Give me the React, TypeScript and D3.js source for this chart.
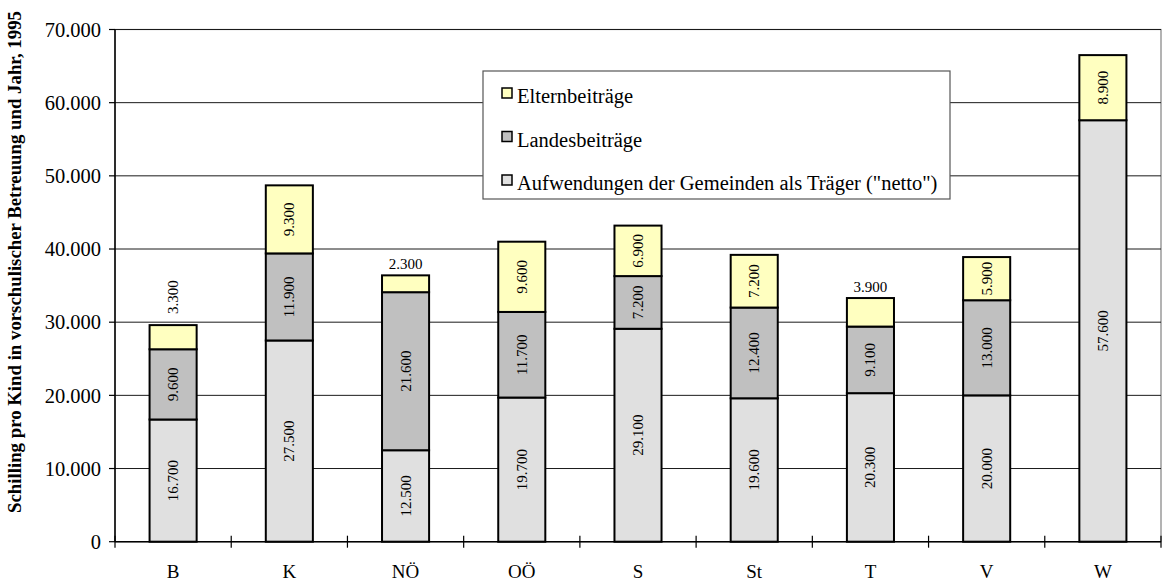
import React from "react";
import * as d3 from "d3";

const categories = ["B", "K", "NÖ", "OÖ", "S", "St", "T", "V", "W"];
const netto = [16700, 27500, 12500, 19700, 29100, 19600, 20300, 20000, 57600];
const landes = [9600, 11900, 21600, 11700, 7200, 12400, 9100, 13000, 0];
const eltern = [3300, 9300, 2300, 9600, 6900, 7200, 3900, 5900, 8900];
const elternLabelMode = ["above-rotated", "inside", "above", "inside", "inside", "inside", "above", "inside", "inside"];
const yTicks = [0, 10000, 20000, 30000, 40000, 50000, 60000, 70000];
const seriesNames = ["Aufwendungen der Gemeinden als Träger (\"netto\")", "Landesbeiträge", "Elternbeiträge"];
const seriesColors = ["#E0E0E0", "#C0C0C0", "#FFFFC0"];
const yTitle = "Schilling pro Kind in vorschulischer Betreuung und Jahr, 1995";

const W = 1164, H = 583;
const L = 115, R = 1161, T = 29.5, B = 541.7;
const FONT = "'Liberation Serif', 'Times New Roman', Times, serif";

const fmt = (v: number) => (v === 0 ? "0" : d3.format(",")(v).replace(/,/g, "."));

export default function App() {
  const x = d3.scaleBand<string>().domain(categories).range([L, R]).paddingInner(0).paddingOuter(0);
  const y = d3.scaleLinear().domain([0, 70000]).range([B, T]);
  const bw = x.bandwidth() * 0.405;

  const rows = categories.map((c, i) => ({ c, i, vals: [netto[i], landes[i], eltern[i]] }));
  const stack = d3.stack<any>().keys(["0", "1", "2"]).value((d: any, k: string) => d.vals[+k]);
  const series = stack(rows);

  return (
    <svg width={W} height={H} style={{ position: "absolute", left: 0, top: 0, background: "#fff", fontFamily: FONT }}>
      {/* plot frame */}
      <rect x={L} y={T} width={R - L} height={B - T} fill="none" stroke="#808080" strokeWidth={1.2} />
      {/* gridlines */}
      {yTicks.filter((t) => t > 0).map((t) => (
        <line key={t} x1={L} x2={R} y1={y(t)} y2={y(t)} stroke="#1a1a1a" strokeWidth={1} />
      ))}
      {/* bars */}
      {series.map((s, si) =>
        s.map((d, ci) => {
          const v = d[1] - d[0];
          if (v <= 0) return null;
          const cx = (x(categories[ci]) as number) + x.bandwidth() / 2;
          return (
            <rect key={si + "-" + ci} x={cx - bw / 2} y={y(d[1])} width={bw} height={y(d[0]) - y(d[1])}
              fill={seriesColors[si]} stroke="#000" strokeWidth={2} />
          );
        })
      )}
      {/* value labels */}
      {series.map((s, si) =>
        s.map((d, ci) => {
          const v = d[1] - d[0];
          if (v <= 0) return null;
          const cx = (x(categories[ci]) as number) + x.bandwidth() / 2;
          const mode = si === 2 ? elternLabelMode[ci] : "inside";
          if (mode === "above") {
            return (
              <text key={"l" + si + ci} x={cx} y={y(d[1]) - 6} textAnchor="middle" fontSize={15} fill="#000">{fmt(v)}</text>
            );
          }
          const cy = mode === "above-rotated" ? y(d[1]) - 28 : (y(d[0]) + y(d[1])) / 2;
          return (
            <text key={"l" + si + ci} transform={`translate(${cx},${cy}) rotate(-90)`} textAnchor="middle"
              dominantBaseline="central" fontSize={15} fill="#000">{fmt(v)}</text>
          );
        })
      )}
      {/* axes */}
      <line x1={L} x2={L} y1={T} y2={B} stroke="#000" strokeWidth={1.5} />
      <line x1={L} x2={R} y1={B} y2={B} stroke="#000" strokeWidth={1.5} />
      {yTicks.map((t) => (
        <g key={"yt" + t}>
          <line x1={L - 6} x2={L} y1={y(t)} y2={y(t)} stroke="#000" strokeWidth={1.2} />
          <text x={L - 14} y={y(t)} dy="0.35em" textAnchor="end" fontSize={20.5} fill="#000">{fmt(t)}</text>
        </g>
      ))}
      {categories.map((c, i) => (
        <line key={"xt" + i} x1={(x(c) as number)} x2={(x(c) as number)} y1={B - 6} y2={B + 6} stroke="#000" strokeWidth={1.2} />
      ))}
      <line x1={R} x2={R} y1={B - 6} y2={B + 6} stroke="#000" strokeWidth={1.2} />
      {categories.map((c) => (
        <text key={"xl" + c} x={(x(c) as number) + x.bandwidth() / 2} y={578} textAnchor="middle" fontSize={19} fill="#000">{c}</text>
      ))}
      {/* y title */}
      <text transform={`translate(21,262) rotate(-90)`} textAnchor="middle" fontSize={18.8} fontWeight="bold" fill="#000">{yTitle}</text>
      {/* legend */}
      <g>
        <rect x={483} y={71} width={467} height={128} fill="#fff" stroke="#555" strokeWidth={1.2} />
        {[2, 1, 0].map((si, k) => (
          <g key={"lg" + si} transform={`translate(0,${k * 43.5})`}>
            <rect x={502} y={88} width={10} height={10} fill={seriesColors[si]} stroke="#000" strokeWidth={1.5} />
            <text x={517} y={103} fontSize={20.5} fill="#000">{seriesNames[si]}</text>
          </g>
        ))}
      </g>
    </svg>
  );
}
